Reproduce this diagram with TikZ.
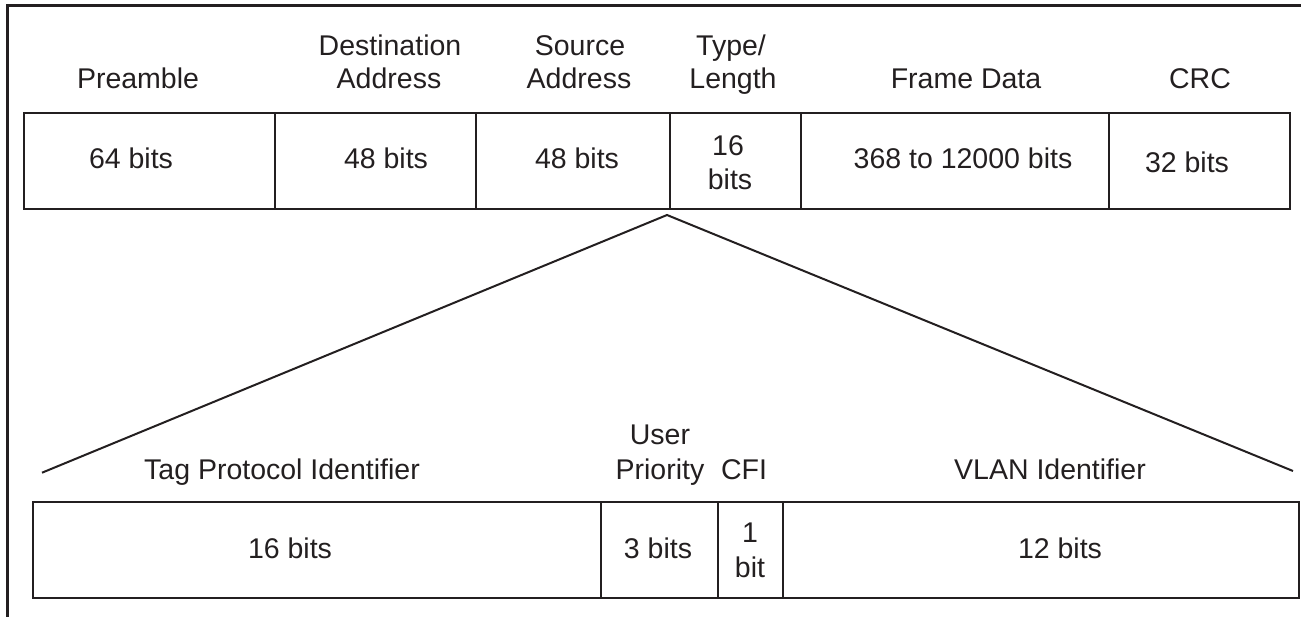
\documentclass[tikz,border=0pt]{standalone}
\usepackage{fontspec}
\setmainfont{Liberation Sans}
\definecolor{ink}{RGB}{35,31,32}
\begin{document}
\begin{tikzpicture}[x=1pt,y=-1pt,
  cell/.style={draw=ink,line width=2pt,minimum height=96pt,inner sep=0pt,anchor=north west},
  lbl/.style={inner sep=0pt,anchor=base,text=ink,font=\fontsize{28.5}{34}\selectfont},
  fan/.style={draw=ink,line width=2pt}]
\useasboundingbox (0,0) rectangle (1301,616);
% outer frame (cropped)
\draw[ink,line width=3pt] (7,630) -- (7,5) -- (1320,5);
% top row cells
\node[cell,minimum width=251pt] (t1) at (23,112) {};
\node[cell,minimum width=201pt] (t2) at (274,112) {};
\node[cell,minimum width=194pt] (t3) at (475,112) {};
\node[cell,minimum width=131pt] (t4) at (669,112) {};
\node[cell,minimum width=308pt] (t5) at (800,112) {};
\node[cell,minimum width=181pt] (t6) at (1108,112) {};
% top labels
\node[lbl] (lpre) at (138,88) {Preamble};
\node[lbl] (ldst1) at (390,55) {Destination};
\node[lbl] (ldst2) at (389,88) {Address};
\node[lbl] (lsrc1) at (580,55) {Source};
\node[lbl] (lsrc2) at (579,88) {Address};
\node[lbl] (ltyp1) at (731,55) {Type/};
\node[lbl] (ltyp2) at (733,88) {Length};
\node[lbl] (lfd) at (966,88) {Frame Data};
\node[lbl] (lcrc) at (1200,88) {CRC};
% top cell texts
\node[lbl] (v1) at (131,168) {64 bits};
\node[lbl] (v2) at (386,168) {48 bits};
\node[lbl] (v3) at (577,168) {48 bits};
\node[lbl] (v4a) at (728,155) {16};
\node[lbl] (v4b) at (730,189) {bits};
\node[lbl] (v5) at (963,168) {368 to 12000 bits};
\node[lbl] (v6) at (1187,172) {32 bits};
% fan lines
\coordinate (apex) at (667,215);
\coordinate (fl) at (42,472.7);
\coordinate (fr) at (1293,471);
\draw[fan] (fl) -- (apex) -- (fr);
% bottom row cells
\node[cell,minimum width=568pt] (b1) at (32,501) {};
\node[cell,minimum width=117pt] (b2) at (600,501) {};
\node[cell,minimum width=65pt] (b3) at (717,501) {};
\node[cell,minimum width=516pt] (b4) at (782,501) {};
% bottom labels
\node[lbl] (ltpi) at (282,479) {Tag Protocol Identifier};
\node[lbl] (lup1) at (660,444) {User};
\node[lbl] (lup2) at (660,479) {Priority};
\node[lbl] (lcfi) at (744,479) {CFI};
\node[lbl] (lvid) at (1050,479) {VLAN Identifier};
% bottom cell texts
\node[lbl] (w1) at (290,558) {16 bits};
\node[lbl] (w2) at (658,558) {3 bits};
\node[lbl] (w3a) at (750,542) {1};
\node[lbl] (w3b) at (750,577) {bit};
\node[lbl] (w4) at (1060,558) {12 bits};
\end{tikzpicture}
\end{document}
